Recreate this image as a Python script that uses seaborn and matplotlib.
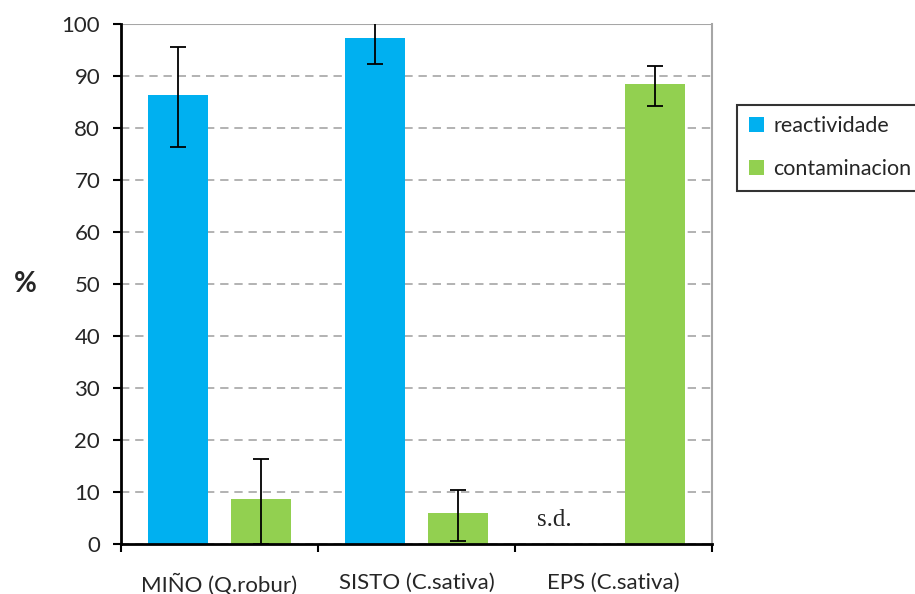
import seaborn as sns
import pandas as pd
import matplotlib.pyplot as plt
import numpy as np

sites = ['MIÑO (Q.robur)', 'SISTO (C.sativa)', 'EPS (C.sativa)']
series = ['reactividade', 'contaminacion']
reactividade = [86.3, 97.4, np.nan]
reactividade_err_lo = [9.9, 5.1, np.nan]
reactividade_err_hi = [9.3, 5.1, np.nan]
contaminacion = [8.6, 5.9, 88.5]
contaminacion_err_lo = [8.6, 5.4, 4.3]
contaminacion_err_hi = [7.7, 4.4, 3.4]
colors = ['#00B0F0', '#92D050']

df = pd.DataFrame({
    'site': sites * 2,
    'serie': [series[0]] * 3 + [series[1]] * 3,
    'valor': reactividade + contaminacion,
    'lo': reactividade_err_lo + contaminacion_err_lo,
    'hi': reactividade_err_hi + contaminacion_err_hi,
})

sns.set_style('white')
plt.rcParams['font.family'] = ['Lato', 'DejaVu Sans']

fig = plt.figure(figsize=(9.15, 5.94), dpi=100)
ax = fig.add_axes([0.1322, 0.0842, 0.6459, 0.8754])

sns.barplot(data=df, x='site', y='valor', hue='serie', order=sites, hue_order=series,
            palette=colors, width=0.844, gap=0.277, errorbar=None, ax=ax,
            saturation=1, edgecolor='none')

# error bars on the bar centres
for p in ax.patches:
    h = p.get_height()
    if not np.isfinite(h) or h == 0:
        continue
    xc = p.get_x() + p.get_width() / 2
    row = df[np.isclose(df['valor'], h)].iloc[0]
    ax.errorbar(xc, h, yerr=[[row['lo']], [row['hi']]], fmt='none', ecolor='black',
                elinewidth=1.3, capsize=6, capthick=1.3, zorder=5)

ax.text(1.7, 3.5, 's.d.', family='Liberation Serif', fontsize=18, ha='center')

ax.set_ylim(0, 100)
ax.set_xlim(-0.5, 2.5)
ax.set_yticks(range(0, 101, 10))
ax.yaxis.grid(True, color='#A6A6A6', linestyle=(0, (5, 3.5)), linewidth=1.2)
ax.set_axisbelow(True)
ax.axhline(100, color='#A6A6A6', linewidth=1.5, zorder=1)

ax.set_xticks([0, 1, 2])
ax.set_xticks([-0.5, 0.5, 1.5, 2.5], minor=True)
ax.tick_params(axis='x', which='major', length=0, pad=21, labelsize=16)
ax.tick_params(axis='x', which='minor', length=6, width=1.5, direction='out', color='black', bottom=True)
ax.tick_params(axis='y', length=6, width=1.5, direction='out', color='black', left=True, labelsize=16, pad=9)

for s in ['left', 'bottom']:
    ax.spines[s].set_color('black')
    ax.spines[s].set_linewidth(2)
ax.spines['right'].set_color('#A6A6A6')
ax.spines['right'].set_linewidth(1.5)
ax.spines['top'].set_visible(False)

ax.set_xlabel('')
ax.set_ylabel('%', rotation=0, fontsize=20, fontweight='bold', labelpad=26, va='center')

leg = ax.legend(loc='upper left', bbox_to_anchor=(0.806, 0.824), bbox_transform=fig.transFigure,
                frameon=True, fancybox=False, edgecolor='black', fontsize=15.5,
                handlelength=0.7, handleheight=0.7, handletextpad=0.4, labelspacing=1.05,
                borderpad=0.55, borderaxespad=0)
leg.get_frame().set_linewidth(1.5)

fig.savefig('out.png', dpi=100)
